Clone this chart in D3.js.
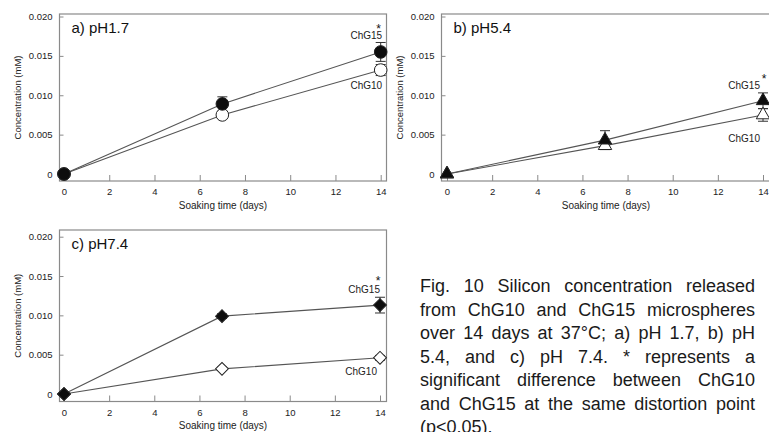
<!DOCTYPE html>
<html>
<head>
<meta charset="utf-8">
<script src="https://cdn.jsdelivr.net/npm/d3@7"></script>
<style>
  html, body { margin: 0; padding: 0; background: #fff; }
  svg { display: block; font-family: "Liberation Sans", Arial, Helvetica, sans-serif; }
</style>
</head>
<body>
<svg id="fig" width="769" height="432"></svg>
<script>
// Soaking times (days) at which silicon release was measured
const days = [0, 7, 14];

// Axis ticks
const xTicks = [0, 2, 4, 6, 8, 10, 12, 14];
const yTicks = [0, 0.005, 0.010, 0.015, 0.020];
const yTickLabels = ["0", "0.005", "0.010", "0.015", "0.020"];

// Silicon concentration (mM) and standard deviation, pH 1.7
const chg15_pH17 = [0, 0.0089, 0.0155];
const chg15_pH17_sd = [0, 0.0009, 0.0012];
const chg10_pH17 = [0, 0.0075, 0.0132];
const chg10_pH17_sd = [0, 0.0004, 0.0007];

// pH 5.4
const chg15_pH54 = [0, 0.0043, 0.0093];
const chg15_pH54_sd = [0, 0.0012, 0.0010];
const chg10_pH54 = [0, 0.0036, 0.0075];
const chg10_pH54_sd = [0, 0.0004, 0.0008];

// pH 7.4
const chg15_pH74 = [0, 0.0099, 0.0113];
const chg15_pH74_sd = [0, 0.0003, 0.0010];
const chg10_pH74 = [0, 0.0032, 0.0046];
const chg10_pH74_sd = [0, 0.0002, 0.0003];

// Panel titles, series names, significance mark
const panelTitles = ["a) pH1.7", "b) pH5.4", "c) pH7.4"];
const seriesNames = ["ChG15", "ChG10"];
const sigMark = "*";

const captionLines = [
  "Fig. 10 Silicon concentration released",
  "from ChG10 and ChG15 microspheres",
  "over 14 days at 37\u00B0C; a) pH 1.7, b) pH",
  "5.4, and c) pH 7.4. * represents a",
  "significant difference between ChG10",
  "and ChG15 at the same distortion point",
  "(p<0.05)."
];

const svg = d3.select("#fig");

const INK = "#222";
const FRAME = "#8a8a8a";
const LINE = "#555";

// Layout of the three panels (pixel frames)
const panels = [
  { title: panelTitles[0], symbol: "circle",
    frame: { l: 59.5, r: 386.5, t: 14, b: 181 }, xr: [64, 380.7], yr: [174, 16.5],
    s15: chg15_pH17, e15: chg15_pH17_sd, s10: chg10_pH17, e10: chg10_pH17_sd,
    lab: { star: [-2, -141.5], c15: [1.5, -135], c10: [1.5, -85.5] } },
  { title: panelTitles[1], symbol: "triangle",
    frame: { l: 441.5, r: 770.5, t: 14, b: 181 }, xr: [447, 763], yr: [174, 16.5],
    s15: chg15_pH54, e15: chg15_pH54_sd, s10: chg10_pH54, e10: chg10_pH54_sd,
    lab: { star: [1, -91.5], c15: [-3, -85], c10: [-3, -32.5] } },
  { title: panelTitles[2], symbol: "diamond",
    frame: { l: 59.5, r: 386.5, t: 230, b: 401.5 }, xr: [64, 380], yr: [394, 236.7],
    s15: chg15_pH74, e15: chg15_pH74_sd, s10: chg10_pH74, e10: chg10_pH74_sd,
    lab: { star: [-2, -109.5], c15: [0, -101], c10: [-3, -19] } }
];

function symbolPath(kind) {
  if (kind === "circle") return d3.symbol(d3.symbolCircle, Math.PI * 6.3 * 6.3)();
  if (kind === "triangle") return d3.symbol(d3.symbolTriangle, 78)();
  return d3.symbol(d3.symbolSquare, 82)();
}

panels.forEach(p => {
  const g = svg.append("g");
  const x = d3.scaleLinear().domain([0, 14]).range(p.xr);
  const y = d3.scaleLinear().domain([0, 0.02]).range(p.yr);
  const f = p.frame;

  // x axis ticks (pointing inward) and labels
  const xAxis = g.append("g")
    .attr("transform", `translate(0,${f.b})`)
    .call(d3.axisBottom(x).tickValues(xTicks).tickSizeInner(-6).tickSizeOuter(0).tickPadding(7.5));
  xAxis.select(".domain").remove();
  xAxis.selectAll(".tick line").attr("stroke", FRAME);
  xAxis.selectAll(".tick text").attr("fill", INK).attr("font-size", 9.5).attr("font-family", null);

  // y axis ticks (pointing inward) and labels
  const yAxis = g.append("g")
    .attr("transform", `translate(${f.l},0)`)
    .call(d3.axisLeft(y).tickValues(yTicks).tickFormat((d, i) => yTickLabels[i])
      .tickSizeInner(-4).tickSizeOuter(0).tickPadding(7));
  yAxis.select(".domain").remove();
  yAxis.selectAll(".tick line").attr("stroke", FRAME);
  yAxis.selectAll(".tick text").attr("fill", INK).attr("font-size", 9.5).attr("font-family", null);

  // plot frame
  g.append("rect")
    .attr("x", f.l).attr("y", f.t)
    .attr("width", f.r - f.l).attr("height", f.b - f.t)
    .attr("fill", "none").attr("stroke", FRAME).attr("stroke-width", 1.2);

  // axis titles
  g.append("text")
    .attr("x", (f.l + f.r) / 2).attr("y", f.b + 27.5)
    .attr("text-anchor", "middle").attr("font-size", 10).attr("fill", INK)
    .text("Soaking time (days)");
  g.append("text")
    .attr("transform", `translate(${f.l - 39},${(f.t + f.b) / 2}) rotate(-90)`)
    .attr("text-anchor", "middle").attr("font-size", 9.5).attr("fill", INK)
    .text("Concentration (mM)");

  // panel title
  g.append("text")
    .attr("x", f.l + 12).attr("y", f.t + 18.5)
    .attr("font-size", 15).attr("fill", "#111")
    .text(p.title);

  const line = d3.line().x((d, i) => x(days[i])).y(d => y(d));
  const series = [
    { v: p.s10, e: p.e10, fill: "#fff" },
    { v: p.s15, e: p.e15, fill: "#0d0d0d" }
  ];

  // connecting lines
  series.forEach(s => {
    g.append("path").attr("d", line(s.v))
      .attr("fill", "none").attr("stroke", LINE).attr("stroke-width", 1.1);
  });

  // error bars
  series.forEach(s => {
    s.v.forEach((v, i) => {
      if (!s.e[i]) return;
      const cx = x(days[i]);
      const y1 = y(v + s.e[i]), y2 = y(v - s.e[i]);
      g.append("line").attr("x1", cx).attr("x2", cx).attr("y1", y1).attr("y2", y2)
        .attr("stroke", "#333").attr("stroke-width", 1);
      [y1, y2].forEach(yy => g.append("line")
        .attr("x1", cx - 5).attr("x2", cx + 5).attr("y1", yy).attr("y2", yy)
        .attr("stroke", "#333").attr("stroke-width", 1));
    });
  });

  // markers
  series.forEach(s => {
    s.v.forEach((v, i) => {
      const rot = p.symbol === "diamond" ? " rotate(45)" : "";
      g.append("path")
        .attr("d", symbolPath(p.symbol))
        .attr("transform", `translate(${x(days[i])},${y(v)})${rot}`)
        .attr("fill", s.fill).attr("stroke", "#222").attr("stroke-width", 1);
    });
  });

  // series names and significance mark next to the day-14 points
  const xe = x(14);
  const ye = y(0);
  g.append("text").attr("x", xe + p.lab.star[0]).attr("y", ye + p.lab.star[1])
    .attr("text-anchor", "middle").attr("font-size", 12).attr("fill", "#111").text(sigMark);
  g.append("text").attr("x", xe + p.lab.c15[0]).attr("y", ye + p.lab.c15[1])
    .attr("text-anchor", "end").attr("font-size", 10).attr("fill", INK).text(seriesNames[0]);
  g.append("text").attr("x", xe + p.lab.c10[0]).attr("y", ye + p.lab.c10[1])
    .attr("text-anchor", "end").attr("font-size", 10).attr("fill", INK).text(seriesNames[1]);
});

// Justified caption block
const capLeft = 420, capRight = 755, capTop = 292, capLead = 23.5, capSize = 18;
const cap = svg.append("g").attr("font-size", capSize).attr("fill", "#1a1a1a");
function measure(str) {
  const tmp = cap.append("text").text(str);
  const w = tmp.node().getComputedTextLength();
  tmp.remove();
  return w;
}
const spaceW = measure("a a") - measure("aa");
captionLines.forEach((ln, li) => {
  const words = ln.split(" ");
  const yy = capTop + li * capLead;
  const last = li === captionLines.length - 1;
  const t = cap.append("text").attr("y", yy);
  const widths = words.map(measure);
  const total = d3.sum(widths);
  const gap = last ? spaceW : (capRight - capLeft - total) / (words.length - 1);
  let cx = capLeft;
  words.forEach((w, i) => {
    t.append("tspan").attr("x", cx).attr("y", yy).text(w);
    cx += widths[i] + gap;
  });
});
</script>
</body>
</html>
